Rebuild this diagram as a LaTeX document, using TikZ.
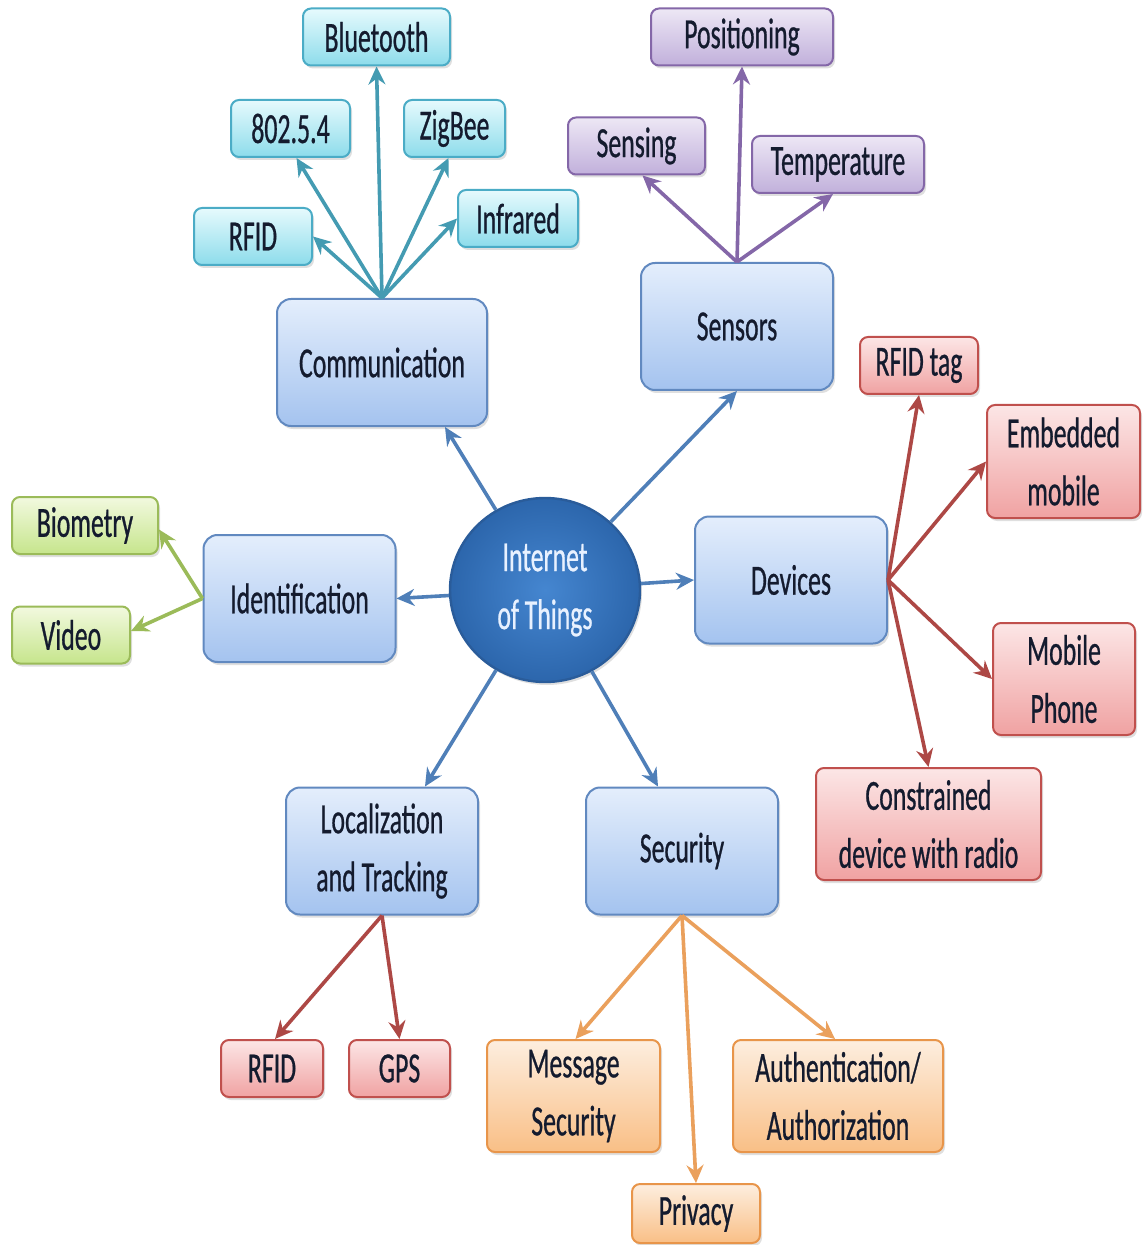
\documentclass[tikz,border=0pt]{standalone}
\usepackage{fontspec}
\setmainfont{Carlito}[FakeStretch=0.6, FakeBold=0.6]
\usepackage{tikz}
\usetikzlibrary{arrows.meta,shapes.geometric,shadows}

\definecolor{textnavy}{HTML}{141B2E}
\definecolor{hubtop}{HTML}{E4EEFC}
\definecolor{hubbot}{HTML}{A4C3EF}
\definecolor{hubline}{HTML}{6189C0}
\definecolor{cyantop}{HTML}{E6FAFD}
\definecolor{cyanbot}{HTML}{8DDCEB}
\definecolor{cyanline}{HTML}{4BACC6}
\definecolor{purptop}{HTML}{EDE7F5}
\definecolor{purpbot}{HTML}{C1B0DB}
\definecolor{purpline}{HTML}{8467A8}
\definecolor{redtop}{HTML}{FCE6E6}
\definecolor{redbot}{HTML}{F0A2A2}
\definecolor{redline}{HTML}{C0504D}
\definecolor{greentop}{HTML}{F2F9DF}
\definecolor{greenbot}{HTML}{C6E58C}
\definecolor{greenline}{HTML}{9BBB59}
\definecolor{orangetop}{HTML}{FDEEDF}
\definecolor{orangebot}{HTML}{F9BF86}
\definecolor{orangeline}{HTML}{E8954A}
\definecolor{iotin}{HTML}{4586D0}
\definecolor{iotout}{HTML}{2C66AC}
\definecolor{iotline}{HTML}{2A5C9A}
\definecolor{iottext}{HTML}{E8F1FF}
\definecolor{bluearrow}{HTML}{4F7FB8}

\tikzset{
  box/.style={rectangle, rounded corners=4pt, line width=1pt, align=center, inner sep=0pt,
    text=textnavy, font=\fontsize{21.5}{29}\selectfont,
    drop shadow={opacity=0.25, shadow xshift=1pt, shadow yshift=-1.5pt}},
  hub/.style={box, rounded corners=7pt, draw=hubline, top color=hubtop, bottom color=hubbot,
    minimum width=96pt, minimum height=63.5pt},
  cyanbox/.style={box, draw=cyanline, top color=cyantop, bottom color=cyanbot, minimum height=28.5pt},
  purplebox/.style={box, draw=purpline, top color=purptop, bottom color=purpbot, minimum height=28.5pt},
  greenbox/.style={box, draw=greenline, top color=greentop, bottom color=greenbot, minimum height=28.5pt},
  redbox/.style={box, draw=redline, top color=redtop, bottom color=redbot, minimum height=28.5pt},
  orangebox/.style={box, draw=orangeline, top color=orangetop, bottom color=orangebot, minimum height=28.5pt},
  iot/.style={ellipse, draw=iotline, line width=1.2pt, inner color=iotin, outer color=iotout,
    minimum width=95pt, minimum height=92pt, inner sep=0pt, align=center, text=iottext,
    font=\fontsize{21.5}{29}\selectfont,
    drop shadow={opacity=0.25, shadow xshift=1pt, shadow yshift=-1.5pt}},
  link/.style={line width=1.8pt, -{Stealth[length=9pt, width=8.5pt, inset=3pt]}},
  bluelink/.style={link, bluearrow},
  cyanlink/.style={link, cyanline!90!black},
  purplelink/.style={link, purpline},
  greenlink/.style={link, greenline},
  redlink/.style={link, redline!90!black},
  orangelink/.style={link, orangeline!90!white},
}

\begin{document}
\begin{tikzpicture}[x=5pt, y=-5pt]
  \useasboundingbox (0,0) rectangle (114.2,124.5);

  % hub and centre
  \node[iot] (iot) at (54.5,59) {Internet\\of Things};
  \node[hub, minimum width=105pt] (comm) at (38.2,36.25) {Communication};
  \node[hub] (sens) at (73.7,32.65) {Sensors};
  \node[hub] (ident) at (29.95,59.85) {Identification};
  \node[hub] (dev) at (79.1,58) {Devices};
  \node[hub] (loc) at (38.2,85.1) {Localization\\and Tracking};
  \node[hub] (sec) at (68.2,85.1) {Security};

  % communication
  \node[cyanbox, minimum width=73.5pt] (bt) at (37.65,3.7) {Bluetooth};
  \node[cyanbox, minimum width=59.5pt] (ieee) at (29.05,12.85) {802.5.4};
  \node[cyanbox, minimum width=50.5pt] (zig) at (45.45,12.85) {ZigBee};
  \node[cyanbox, minimum width=59pt] (rfidc) at (25.3,23.65) {RFID};
  \node[cyanbox, minimum width=60pt] (infra) at (51.8,21.85) {Infrared};

  % sensors
  \node[purplebox, minimum width=91pt] (posn) at (74.2,3.7) {Positioning};
  \node[purplebox, minimum width=68.5pt] (sensing) at (63.65,14.6) {Sensing};
  \node[purplebox, minimum width=86pt] (temp) at (83.8,16.45) {Temperature};

  % identification
  \node[greenbox, minimum width=73pt] (bio) at (8.5,52.55) {Biometry};
  \node[greenbox, minimum width=59pt] (video) at (7.1,63.5) {Video};

  % devices
  \node[redbox, minimum width=59pt] (tag) at (91.9,36.55) {RFID tag};
  \node[redbox, minimum width=76.5pt, minimum height=56.5pt] (emb) at (106.35,46.15) {Embedded\\mobile};
  \node[redbox, minimum width=71pt, minimum height=56pt] (phone) at (106.4,67.9) {Mobile\\Phone};
  \node[redbox, minimum width=112.5pt, minimum height=56pt] (radio) at (92.85,82.4) {Constrained\\device with radio};

  % localization
  \node[redbox, minimum width=51pt] (rfidr) at (27.2,106.85) {RFID};
  \node[redbox, minimum width=50.5pt] (gps) at (39.95,106.85) {GPS};

  % security
  \node[orangebox, minimum width=86.5pt, minimum height=56pt] (msg) at (57.35,109.6) {Message\\Security};
  \node[orangebox, minimum width=105pt, minimum height=56pt] (auth) at (83.8,109.6) {Authentication/\\Authorization};
  \node[orangebox, minimum width=64pt, minimum height=29.5pt] (priv) at (69.6,121.35) {Privacy};

  % arrows
  \draw[bluelink] (iot) -- ([xshift=31.5pt]comm.south);
  \draw[bluelink] (iot) -- (sens.south);
  \draw[bluelink] (iot) -- (ident.east);
  \draw[bluelink] (iot) -- (dev.west);
  \draw[bluelink] (iot) -- ([xshift=21.5pt]loc.north);
  \draw[bluelink] (iot) -- ([xshift=-12pt]sec.north);

  \draw[cyanlink] (comm.north) -- (bt.south);
  \draw[cyanlink] (comm.north) -- ([xshift=3pt]ieee.south);
  \draw[cyanlink] (comm.north) -- ([xshift=-3pt]zig.south);
  \draw[cyanlink] (comm.north) -- (rfidc.east);
  \draw[cyanlink] (comm.north) -- (infra.west);

  \draw[purplelink] (sens.north) -- (posn.south);
  \draw[purplelink] (sens.north) -- ([xshift=3pt]sensing.south);
  \draw[purplelink] (sens.north) -- ([xshift=-2.5pt]temp.south);

  \draw[greenlink] (ident.west) -- ([yshift=-2pt]bio.east);
  \draw[greenlink] (ident.west) -- ([yshift=2pt]video.east);

  \draw[redlink] (dev.east) -- (tag.south);
  \draw[redlink] (dev.east) -- (emb.west);
  \draw[redlink] (dev.east) -- (phone.west);
  \draw[redlink] (dev.east) -- (radio.north);

  \draw[redlink] (loc.south) -- ([xshift=1.5pt]rfidr.north);
  \draw[redlink] (loc.south) -- (gps.north);

  \draw[orangelink] (sec.south) -- ([xshift=1pt]msg.north);
  \draw[orangelink] (sec.south) -- (priv.north);
  \draw[orangelink] (sec.south) -- ([xshift=-1.5pt]auth.north);

\end{tikzpicture}
\end{document}
